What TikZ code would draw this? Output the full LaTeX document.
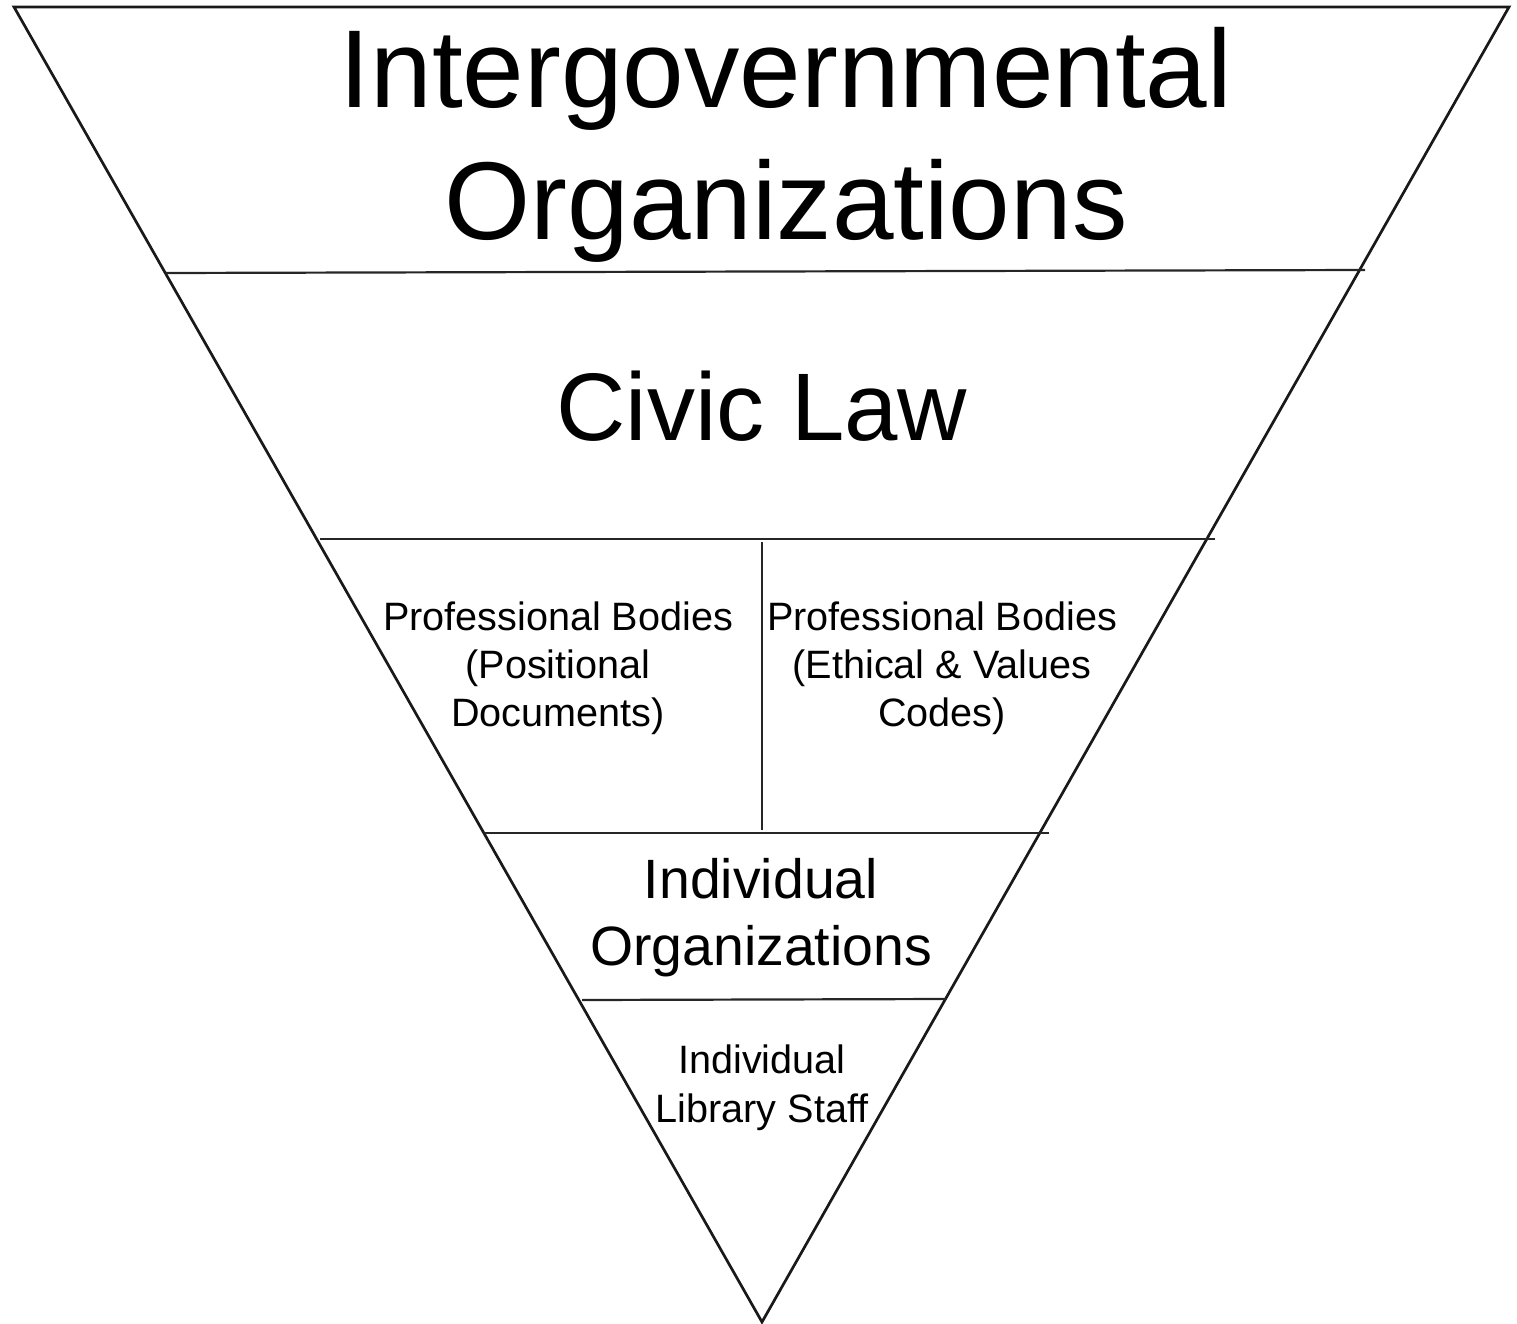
\documentclass[tikz,border=0pt]{standalone}
\usepackage{fontspec}
\setmainfont{Liberation Sans}
\begin{document}
\begin{tikzpicture}[x=1pt,y=-1pt,
  edge/.style={line width=2.7pt,black!90,line join=miter},
  divider/.style={line width=2.2pt,black!85},
  txt/.style={anchor=base,inner sep=0pt,text=black},
  huge/.style={txt,font=\fontsize{110.7}{133}\selectfont},
  big/.style={txt,font=\fontsize{96}{115}\selectfont},
  mid/.style={txt,font=\fontsize{55.4}{67}\selectfont},
  small/.style={txt,font=\fontsize{39.6}{48}\selectfont}]
\useasboundingbox (0,0) rectangle (1517,1324);
% triangle
\coordinate (tl) at (14,7);
\coordinate (tr) at (1509,7);
\coordinate (apex) at (762,1322);
\draw[edge] (tl) -- (tr) -- (apex) -- cycle;
% dividers
\coordinate (a1) at (166,273); \coordinate (b1) at (1365,270);
\coordinate (a2) at (320,539); \coordinate (b2) at (1215,539);
\coordinate (a3) at (484,833); \coordinate (b3) at (1049,833);
\coordinate (a4) at (582,1000); \coordinate (b4) at (946,999);
\coordinate (v1) at (762,542); \coordinate (v2) at (762,830);
\draw[divider] (a1) -- (b1);
\draw[divider] (a2) -- (b2);
\draw[divider] (a3) -- (b3);
\draw[divider] (a4) -- (b4);
\draw[divider] (v1) -- (v2);
% texts
\node[huge] (igo1) at (786,108) {Intergovernmental};
\node[huge] (igo2) at (786,240) {Organizations};
\node[big] (civic) at (762,440) {Civic Law};
\node[small] (pl1) at (558,630) {Professional Bodies};
\node[small] (pl2) at (558,678) {(Positional};
\node[small] (pl3) at (558,726) {Documents)};
\node[small] (pr1) at (942,630) {Professional Bodies};
\node[small] (pr2) at (942,678) {(Ethical \& Values};
\node[small] (pr3) at (942,726) {Codes)};
\node[mid] (io1) at (761,898) {Individual};
\node[mid] (io2) at (761,965) {Organizations};
\node[small] (ls1) at (762,1073) {Individual};
\node[small] (ls2) at (762,1122) {Library Staff};
\end{tikzpicture}
\end{document}
